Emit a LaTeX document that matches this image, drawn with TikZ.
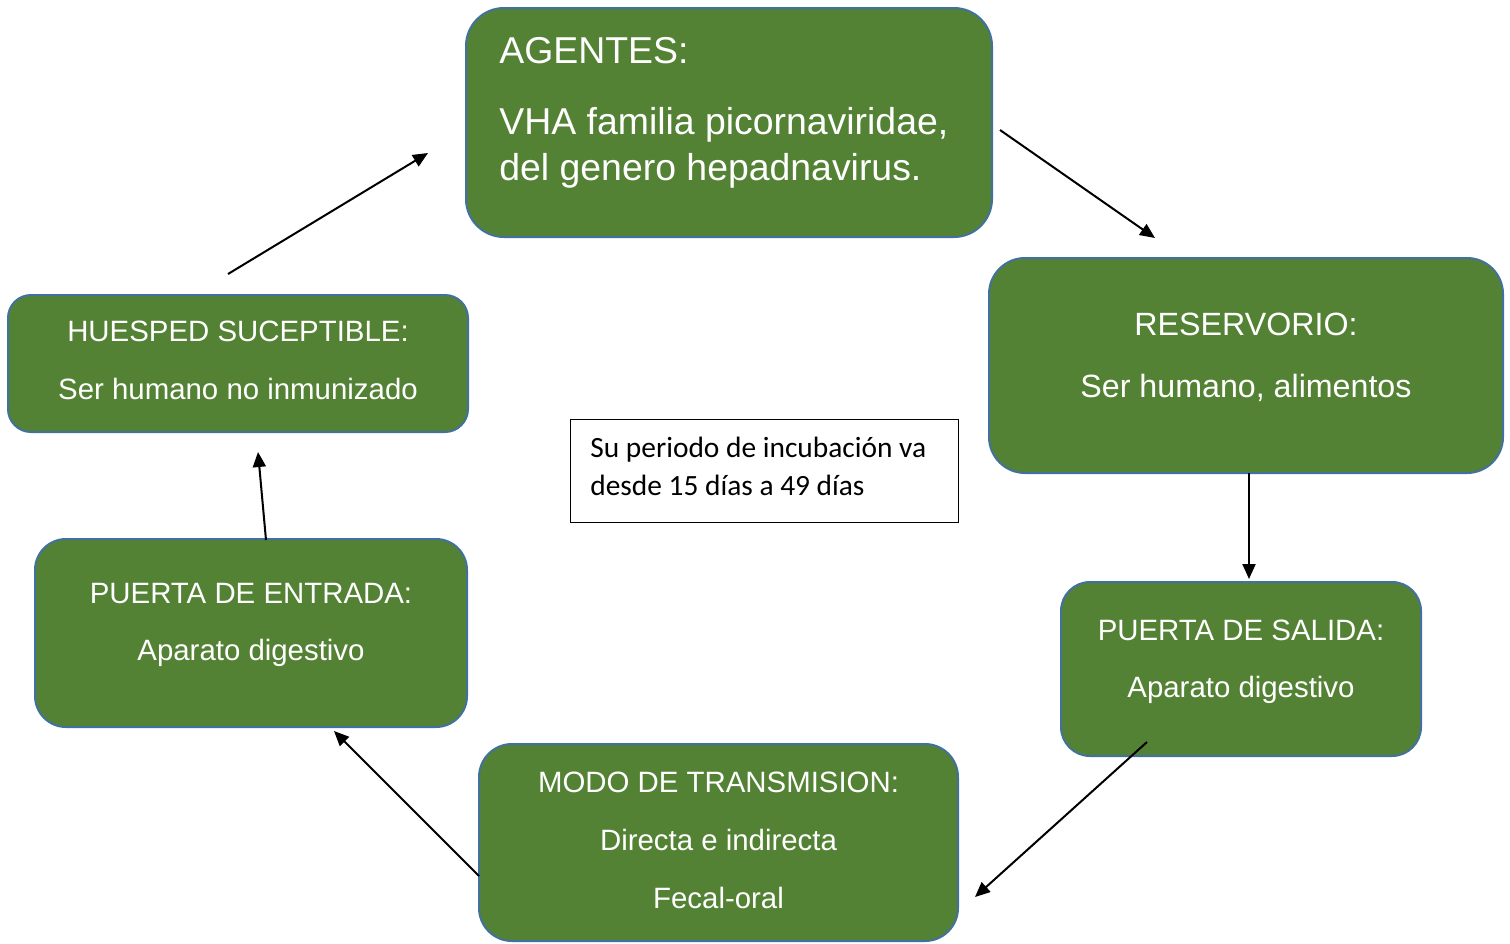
\documentclass[tikz,border=0pt]{standalone}
\usepackage{fontspec}
\setmainfont{Liberation Sans}
\newfontfamily\calib{Carlito}
\usetikzlibrary{arrows.meta}
\definecolor{gfill}{HTML}{548235}
\definecolor{gline}{HTML}{41719C}
\tikzset{
  gbox/.style={draw=gline, line width=1pt, fill=gfill, inner sep=0pt},
  wtxt/.style={text=white, font=\fontsize{14.7pt}{17pt}\selectfont, inner sep=0pt, anchor=base},
  rtxt/.style={text=white, font=\fontsize{16.1pt}{18pt}\selectfont, inner sep=0pt, anchor=base},
  btxt/.style={text=white, font=\fontsize{18.7pt}{22pt}\selectfont, inner sep=0pt, anchor=base west},
  itxt/.style={text=black, font=\calib\fontsize{14.7pt}{17pt}\selectfont, inner sep=0pt, anchor=base west},
  arr/.style={line width=1pt, -{Triangle[length=7.5pt,width=6.5pt]}}
}
\begin{document}
\begin{tikzpicture}[x=0.5pt,y=-0.5pt]
\useasboundingbox (0,0) rectangle (1510,943);
% boxes
\node[gbox, minimum width=263pt, minimum height=114.5pt, rounded corners=19pt] (agentes) at (729,122.5) {};
\node[gbox, minimum width=257pt, minimum height=107.5pt, rounded corners=18pt] (reserv) at (1246,365.5) {};
\node[gbox, minimum width=180pt, minimum height=87pt, rounded corners=14.5pt] (salida) at (1241,669) {};
\node[gbox, minimum width=239.5pt, minimum height=98.5pt, rounded corners=16.5pt] (modo) at (718.5,842.5) {};
\node[gbox, minimum width=216pt, minimum height=94pt, rounded corners=15.5pt] (entrada) at (251,633) {};
\node[gbox, minimum width=230pt, minimum height=68.5pt, rounded corners=11.5pt] (huesped) at (238,363.5) {};
\node[draw=black, line width=0.5pt, fill=white, minimum width=194pt, minimum height=51.5pt, inner sep=0pt] (incub) at (764,470.5) {};
% texts
\node[btxt] (agT1) at (499,63) {AGENTES:};
\node[btxt] (agT2) at (499,134) {VHA familia picornaviridae,};
\node[btxt] (agT3) at (499,180) {del genero hepadnavirus.};
\node[rtxt] (reT1) at (1246,335) {RESERVORIO:};
\node[rtxt] (reT2) at (1246,397) {Ser humano, alimentos};
\node[wtxt] (saT1) at (1241,640) {PUERTA DE SALIDA:};
\node[wtxt] (saT2) at (1241,697) {Aparato digestivo};
\node[wtxt] (moT1) at (718.5,792) {MODO DE TRANSMISION:};
\node[wtxt] (moT2) at (718.5,850) {Directa e indirecta};
\node[wtxt] (moT3) at (718.5,908) {Fecal-oral};
\node[wtxt] (enT1) at (251,603) {PUERTA DE ENTRADA:};
\node[wtxt] (enT2) at (251,660) {Aparato digestivo};
\node[wtxt] (huT1) at (238,341) {HUESPED SUCEPTIBLE:};
\node[wtxt] (huT2) at (238,399) {Ser humano no inmunizado};
\node[itxt] (inT1) at (590,457) {Su periodo de incubación va};
\node[itxt] (inT2) at (590,495) {desde 15 días a 49 días};
% connector end points
\coordinate (a1s) at (1000,130); \coordinate (a1e) at (1155,238);
\coordinate (a2s) at (1249,473); \coordinate (a2e) at (1249,579);
\coordinate (a3s) at (1147,742); \coordinate (a3e) at (975,897);
\coordinate (a4s) at (479,876);  \coordinate (a4e) at (334,731);
\coordinate (a5s) at (266,540);  \coordinate (a5e) at (258,452);
\coordinate (a6s) at (228,274);  \coordinate (a6e) at (428,153);
\draw[arr] (a1s) -- (a1e);
\draw[arr] (a2s) -- (a2e);
\draw[arr] (a3s) -- (a3e);
\draw[arr] (a4s) -- (a4e);
\draw[arr] (a5s) -- (a5e);
\draw[arr] (a6s) -- (a6e);
\end{tikzpicture}
\end{document}
